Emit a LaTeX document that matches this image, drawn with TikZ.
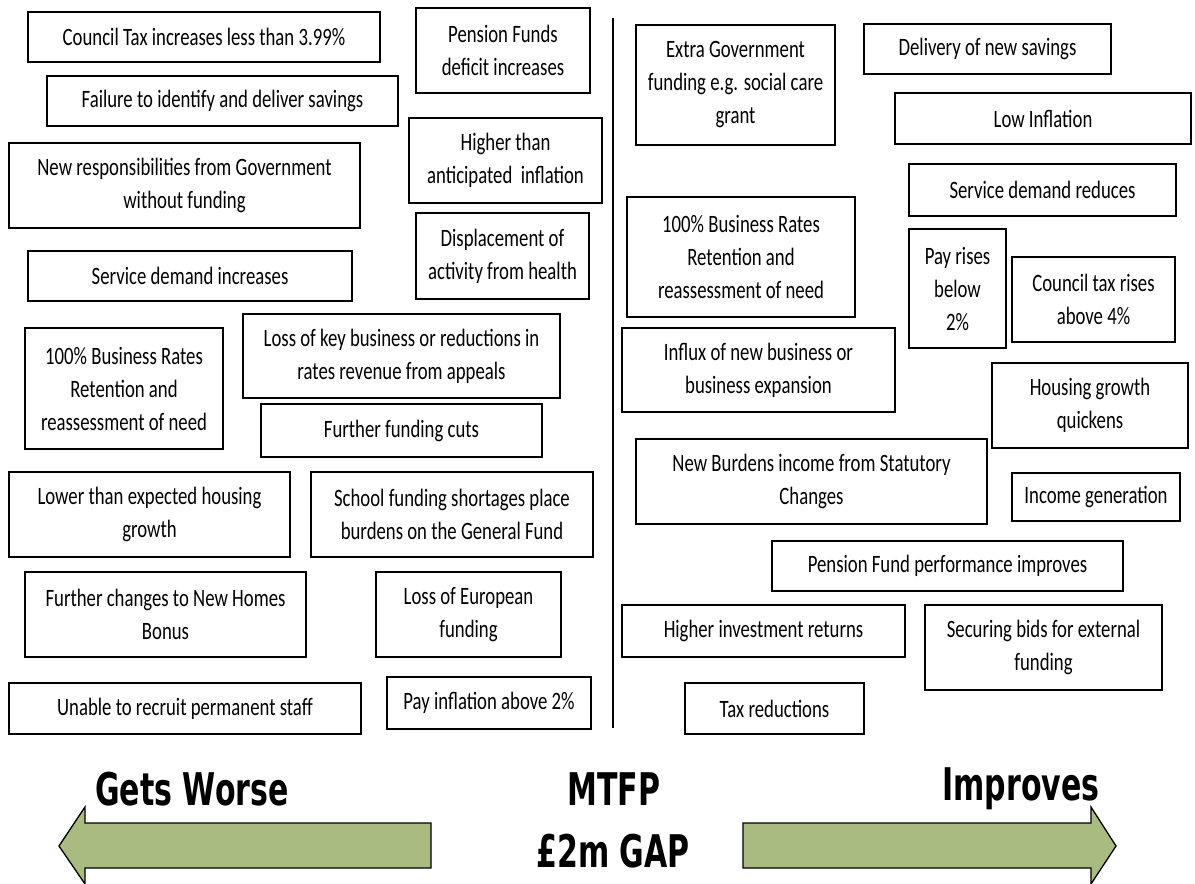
\documentclass[tikz,border=0pt]{standalone}
\usepackage{fontspec}
\newfontfamily\bodyfont{Carlito}[FakeStretch=0.75]
\newfontfamily\headfont{DejaVu Sans}[FakeStretch=0.667]
\definecolor{arrowgreen}{RGB}{169,187,128}
\begin{document}
\begin{tikzpicture}[x=1pt,y=-1pt,
  bx/.style={draw=black, line width=1.6pt, align=center, inner sep=0pt,
    font=\bodyfont\fontsize{25}{33}\selectfont},
  head/.style={font=\headfont\bfseries\fontsize{45}{60}\selectfont, inner sep=0pt},
  bigarrow/.style={draw=black, line width=1.3pt, fill=arrowgreen, line join=miter}]
\useasboundingbox (0,0) rectangle (1195,884);
% left column
\node[bx, minimum width=352pt, minimum height=50pt] (l1) at (204,37) {Council Tax increases less than 3.99\%};
\node[bx, minimum width=174pt, minimum height=85pt] (l2) at (503,50.5) {Pension Funds\\deficit increases};
\node[bx, minimum width=351pt, minimum height=50pt] (l3) at (222.5,101) {Failure to identify and deliver savings};
\node[bx, minimum width=193pt, minimum height=85pt] (l4) at (505.5,160.5) {Higher than\\anticipated\ \ inflation};
\node[bx, minimum width=351pt, minimum height=85pt] (l5) at (184.5,185.5) {New responsibilities from Government\\without funding};
\node[bx, minimum width=173pt, minimum height=86pt] (l6) at (502.5,256) {Displacement of\\activity from health};
\node[bx, minimum width=324pt, minimum height=50pt] (l7) at (190,276) {Service demand increases};
\node[bx, minimum width=317pt, minimum height=84pt] (l8) at (401.5,356) {Loss of key business or reductions in\\rates revenue from appeals};
\node[bx, minimum width=198pt, minimum height=121pt] (l9) at (124,388.5) {100\% Business Rates\\Retention and\\reassessment of need};
\node[bx, minimum width=281pt, minimum height=53pt] (l10) at (401.5,430.5) {Further funding cuts};
\node[bx, minimum width=281pt, minimum height=85pt] (l11) at (149.5,514.5) {Lower than expected housing\\growth};
\node[bx, minimum width=282pt, minimum height=85pt] (l12) at (452,514.5) {School funding shortages place\\burdens on the General Fund};
\node[bx, minimum width=281pt, minimum height=85pt] (l13) at (165.5,614.5) {Further changes to New Homes\\Bonus};
\node[bx, minimum width=185pt, minimum height=85pt] (l14) at (468.5,614.5) {Loss of European\\funding};
\node[bx, minimum width=352pt, minimum height=51pt] (l15) at (185,708.5) {Unable to recruit permanent staff};
\node[bx, minimum width=204pt, minimum height=52pt] (l16) at (489,703) {Pay inflation above 2\%};
% divider
\coordinate (dtop) at (613,18);
\coordinate (dbot) at (613,728);
\draw[line width=1.4pt] (dtop) -- (dbot);
% right column
\node[bx, minimum width=199pt, minimum height=120pt] (r1) at (735.5,85) {Extra Government\\funding e.g. social care\\grant};
\node[bx, minimum width=247pt, minimum height=50pt] (r2) at (987.5,49) {Delivery of new savings};
\node[bx, minimum width=296pt, minimum height=51pt] (r3) at (1043,118.5) {Low Inflation};
\node[bx, minimum width=267pt, minimum height=52pt] (r4) at (1042.5,190) {Service demand reduces};
\node[bx, minimum width=228pt, minimum height=120pt] (r5) at (741,257) {100\% Business Rates\\Retention and\\reassessment of need};
\node[bx, minimum width=97pt, minimum height=119pt] (r6) at (957.5,288.5) {Pay rises\\below\\2\%};
\node[bx, minimum width=163pt, minimum height=85pt] (r7) at (1093.5,299.5) {Council tax rises\\above 4\%};
\node[bx, minimum width=273pt, minimum height=84pt] (r8) at (758.5,370) {Influx of new business or\\business expansion};
\node[bx, minimum width=196pt, minimum height=85pt] (r9) at (1090,405.5) {Housing growth\\quickens};
\node[bx, minimum width=351pt, minimum height=85pt] (r10) at (811.5,481.5) {New Burdens income from Statutory\\Changes};
\node[bx, minimum width=168pt, minimum height=48pt] (r11) at (1096,497) {Income generation};
\node[bx, minimum width=351pt, minimum height=50pt] (r12) at (947.5,566) {Pension Fund performance improves};
\node[bx, minimum width=283pt, minimum height=52pt] (r13) at (763.5,631) {Higher investment returns};
\node[bx, minimum width=237pt, minimum height=85pt] (r14) at (1043.5,647.5) {Securing bids for external\\funding};
\node[bx, minimum width=179pt, minimum height=51pt] (r15) at (774.5,708.5) {Tax reductions};
% bottom labels
\node[head] (worse) at (192,789) {Gets Worse};
\node[head] (mtfp) at (614,789) {MTFP};
\node[head] (gap) at (613,851) {£2m GAP};
\node[head] (impr) at (1021,789) {Improves};
% arrows
\draw[bigarrow] (59,846) -- (85,807) -- (85,823) -- (431,823) -- (431,868) -- (85,868) -- (85,884) -- cycle;
\draw[bigarrow] (1116,846) -- (1091,807) -- (1091,823) -- (743,823) -- (743,868) -- (1091,868) -- (1091,884) -- cycle;
\end{tikzpicture}
\end{document}
